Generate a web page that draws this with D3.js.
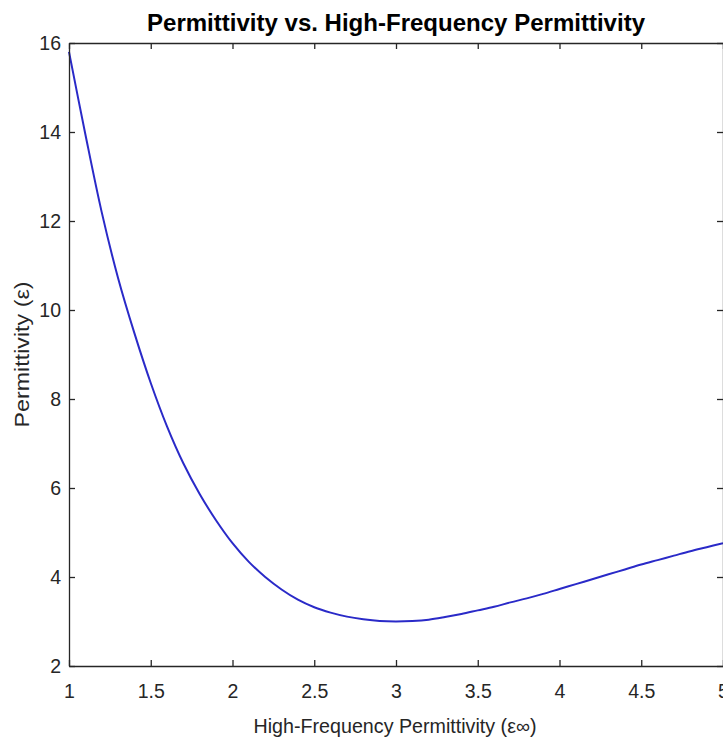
<!DOCTYPE html>
<html>
<head>
<meta charset="utf-8">
<script src="https://cdn.jsdelivr.net/npm/d3@7"></script>
<style>
  html, body { margin: 0; padding: 0; background: #fff; }
  svg { display: block; }
  text { font-family: "Liberation Sans", Arial, sans-serif; }
</style>
</head>
<body>
<svg id="chart" width="723" height="740"></svg>
<script>
// ---- data ----
const epsInf = [1.0, 1.1, 1.2, 1.3, 1.4, 1.5, 1.6, 1.7, 1.8, 1.9,
                2.0, 2.1, 2.2, 2.3, 2.4, 2.5, 2.6, 2.7, 2.8, 2.9,
                3.0, 3.1, 3.2, 3.3, 3.4, 3.5, 3.6, 3.7, 3.8, 3.9,
                4.0, 4.1, 4.2, 4.3, 4.4, 4.5, 4.6, 4.7, 4.8, 4.9, 5.0];
const permittivity = [15.80, 13.95, 12.20, 10.72, 9.48, 8.36, 7.38, 6.55, 5.86, 5.27,
                      4.76, 4.34, 4.00, 3.72, 3.49, 3.32, 3.20, 3.11, 3.05, 3.01,
                      3.00, 3.01, 3.04, 3.10, 3.17, 3.25, 3.33, 3.43, 3.52, 3.62,
                      3.73, 3.84, 3.95, 4.06, 4.17, 4.28, 4.38, 4.48, 4.58, 4.67, 4.76];
const xTicks = [1, 1.5, 2, 2.5, 3, 3.5, 4, 4.5, 5];
const yTicks = [2, 4, 6, 8, 10, 12, 14, 16];
const titleText = "Permittivity vs. High-Frequency Permittivity";
const xLabel = "High-Frequency Permittivity (\u03b5\u221e)";
const yLabel = "Permittivity (\u03b5)";

// ---- layout ----
const svg = d3.select("#chart");
const mLeft = 69, mRight = 723, mTop = 43, mBottom = 666;
const axisColor = "#262626";

const x = d3.scaleLinear().domain([1, 5]).range([mLeft, mRight]);
const y = d3.scaleLinear().domain([2, 16]).range([mBottom, mTop]);

const data = epsInf.map((v, i) => ({x: v, y: permittivity[i]}));

// curve
svg.append("path")
  .datum(data)
  .attr("fill", "none")
  .attr("stroke", "#2a2ac8")
  .attr("stroke-width", 2)
  .attr("d", d3.line().x(d => x(d.x)).y(d => y(d.y)).curve(d3.curveCatmullRom.alpha(0.5)));

function styleAxis(g) {
  g.selectAll("path.domain").attr("stroke", axisColor).attr("stroke-width", 1.3);
  g.selectAll(".tick line").attr("stroke", axisColor).attr("stroke-width", 1.3);
  g.selectAll(".tick text").attr("fill", axisColor)
    .style("font-size", "19.5px")
    .style("font-family", "'Liberation Sans', Arial, sans-serif");
}

// bottom axis
svg.append("g")
  .attr("transform", `translate(0,${mBottom})`)
  .call(d3.axisBottom(x).tickValues(xTicks).tickFormat(d3.format("")).tickSizeInner(-6).tickSizeOuter(0).tickPadding(18))
  .call(styleAxis);

// top axis
svg.append("g")
  .attr("transform", `translate(0,${mTop})`)
  .call(d3.axisTop(x).tickValues(xTicks).tickFormat("").tickSizeInner(-6).tickSizeOuter(0))
  .call(styleAxis);

// left axis
svg.append("g")
  .attr("transform", `translate(${mLeft},0)`)
  .call(d3.axisLeft(y).tickValues(yTicks).tickFormat(d3.format("")).tickSizeInner(-6).tickSizeOuter(0).tickPadding(8))
  .call(styleAxis);

// right axis
svg.append("g")
  .attr("transform", `translate(${mRight},0)`)
  .call(d3.axisRight(y).tickValues(yTicks).tickFormat("").tickSizeInner(-6).tickSizeOuter(0))
  .call(styleAxis);

// title
svg.append("text")
  .attr("x", (mLeft + mRight) / 2)
  .attr("y", 31)
  .attr("text-anchor", "middle")
  .attr("fill", "#000")
  .style("font-size", "24px")
  .style("font-weight", "bold")
  .attr("textLength", 498)
  .attr("lengthAdjust", "spacingAndGlyphs")
  .text(titleText);

// x label
svg.append("text")
  .attr("x", (mLeft + mRight) / 2 - 1)
  .attr("y", 733)
  .attr("text-anchor", "middle")
  .attr("fill", axisColor)
  .style("font-size", "19.5px")
  .attr("textLength", 283)
  .attr("lengthAdjust", "spacingAndGlyphs")
  .text(xLabel);

// y label
svg.append("text")
  .attr("transform", `translate(29,${(mTop + mBottom) / 2}) rotate(-90)`)
  .attr("text-anchor", "middle")
  .attr("fill", axisColor)
  .style("font-size", "19.5px")
  .attr("textLength", 146)
  .attr("lengthAdjust", "spacingAndGlyphs")
  .text(yLabel);
</script>
</body>
</html>
